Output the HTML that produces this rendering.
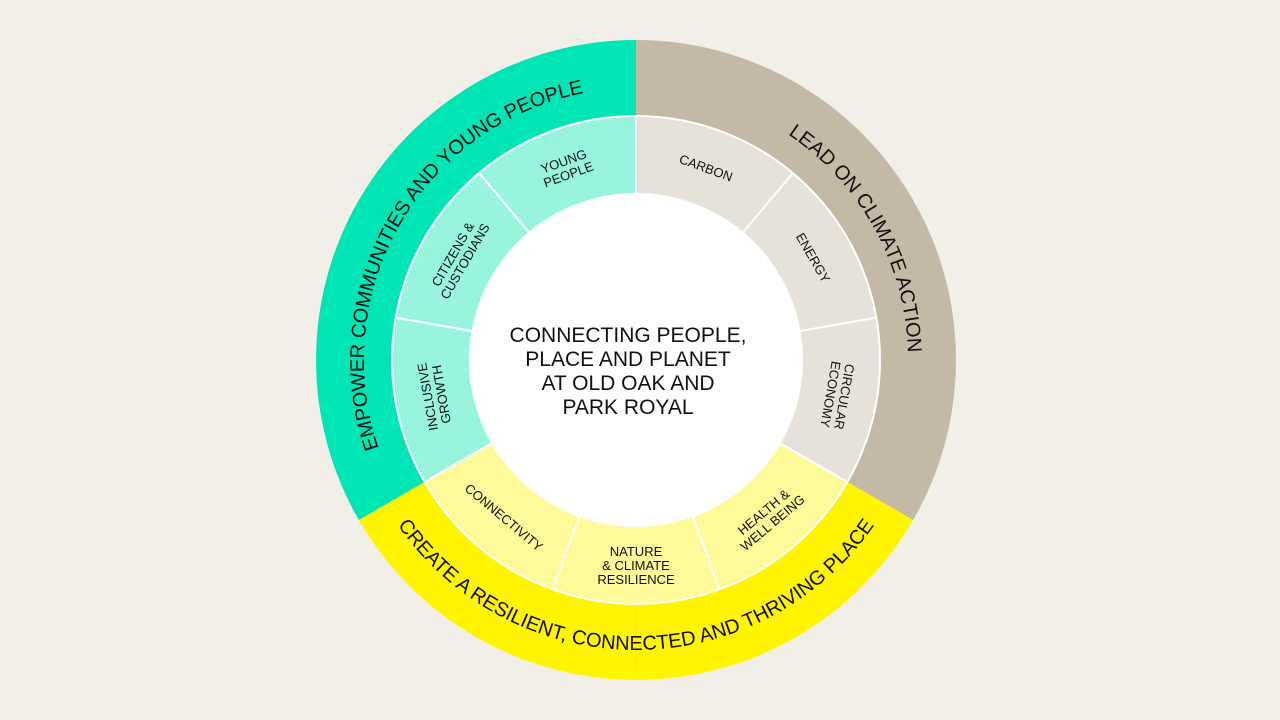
<!DOCTYPE html>
<html><head><meta charset="utf-8"><style>
html,body{margin:0;padding:0;background:#F2EFE8;}
svg{display:block;}
text{font-family:"Liberation Sans",Arial,sans-serif;fill:#111;}
.o{font-size:20px;}
</style></head><body>
<svg width="1280" height="720" viewBox="0 0 1280 720">
<rect width="1280" height="720" fill="#F2EFE8"/>
<path d="M358.9,520 A320,320 0 0 1 636,40 L636,116 A244,244 0 0 0 424.7,482 Z" fill="#00E5B4"/>
<path d="M636,40 A320,320 0 0 1 913.1,520 L847.3,482 A244,244 0 0 0 636,116 Z" fill="#C4B9A5"/>
<path d="M913.1,520 A320,320 0 0 1 358.9,520 L424.7,482 A244,244 0 0 0 847.3,482 Z" fill="#FFF500"/>
<g stroke="#000" stroke-opacity="0.03" stroke-width="1">
<line x1="956" y1="360" x2="880" y2="360"/>
<line x1="316" y1="360" x2="392" y2="360"/>
<line x1="636" y1="680" x2="636" y2="604"/>
<line x1="796" y1="82.9" x2="758" y2="148.7"/>
<line x1="913.1" y1="200" x2="847.3" y2="238"/>
<line x1="476" y1="82.9" x2="514" y2="148.7"/>
<line x1="358.9" y1="200" x2="424.7" y2="238"/>
<line x1="476" y1="637.1" x2="514" y2="571.3"/>
<line x1="796" y1="637.1" x2="758" y2="571.3"/>
</g>
<path d="M636,360 L636,116 A244,244 0 0 1 847.3,482 Z" fill="#E6E1D9"/>
<path d="M636,360 L847.3,482 A244,244 0 0 1 424.7,482 Z" fill="#FFFA99"/>
<path d="M636,360 L424.7,482 A244,244 0 0 1 636,116 Z" fill="#99F4DE"/>
<circle cx="636" cy="360" r="244" fill="none" stroke="#fff" stroke-width="2"/>
<g stroke="#fff" stroke-width="2">
<line x1="636" y1="360" x2="636" y2="116"/>
<line x1="636" y1="360" x2="792.8" y2="173.1"/>
<line x1="636" y1="360" x2="876.3" y2="317.6"/>
<line x1="636" y1="360" x2="847.3" y2="482"/>
<line x1="636" y1="360" x2="719.4" y2="589.3"/>
<line x1="636" y1="360" x2="552.6" y2="589.3"/>
<line x1="636" y1="360" x2="424.7" y2="482"/>
<line x1="636" y1="360" x2="395.7" y2="317.6"/>
<line x1="636" y1="360" x2="479.2" y2="173.1"/>
</g>
<circle cx="636" cy="360" r="167" fill="#fff"/>
<g font-size="21" text-anchor="middle">
<text x="628" y="342">CONNECTING PEOPLE,</text>
<text x="628" y="366">PLACE AND PLANET</text>
<text x="628" y="390">AT OLD OAK AND</text>
<text x="628" y="414">PARK ROYAL</text>
</g>
<defs>
<path id="pg" d="M400.4,496 A272,272 0 0 1 636,88"/>
<path id="pt" d="M636,88 A272,272 0 0 1 871.6,496"/>
<path id="py" d="M384.9,505 A290,290 0 0 0 887.1,505"/>
</defs>
<text class="o"><textPath href="#pg" startOffset="50%" text-anchor="middle">EMPOWER COMMUNITIES AND YOUNG PEOPLE</textPath></text>
<text class="o"><textPath href="#pt" startOffset="51%" text-anchor="middle">LEAD ON CLIMATE ACTION</textPath></text>
<text class="o"><textPath href="#py" startOffset="50%" text-anchor="middle">CREATE A RESILIENT, CONNECTED AND THRIVING PLACE</textPath></text>
<g text-anchor="middle" font-size="13">
<g transform="translate(565.9,167.4) rotate(-20)"><text y="-2">YOUNG</text><text y="12">PEOPLE</text></g>
<g transform="translate(706.1,167.4) rotate(20)"><text y="5">CARBON</text></g>
<g transform="translate(813.5,257.5) rotate(60)"><text y="5">ENERGY</text></g>
<g transform="translate(837.9,395.6) rotate(100)"><text y="-2">CIRCULAR</text><text y="12">ECONOMY</text></g>
<g transform="translate(767.8,517) rotate(-40)"><text y="-2">HEALTH &amp;</text><text y="12">WELL BEING</text></g>
<g transform="translate(636,565) rotate(0)"><text y="-9">NATURE</text><text y="5">&amp; CLIMATE</text><text y="19">RESILIENCE</text></g>
<g transform="translate(504.2,517) rotate(40)"><text y="5">CONNECTIVITY</text></g>
<g transform="translate(434.1,395.6) rotate(-100)"><text y="-2">INCLUSIVE</text><text y="12">GROWTH</text></g>
<g transform="translate(458.5,257.5) rotate(-60)"><text y="-2">CITIZENS &amp;</text><text y="12">CUSTODIANS</text></g>
</g>
</svg>
</body></html>
